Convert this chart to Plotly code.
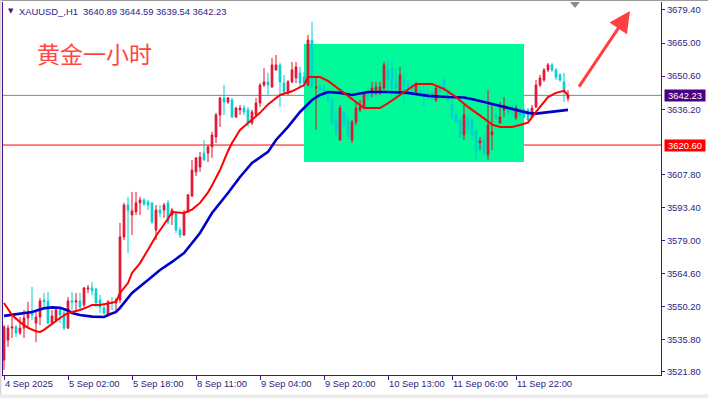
import plotly.graph_objects as go

# ---------------- data ----------------
bars = list(range(142))
opens = [3527.0, 3535.7, 3540.9, 3541.4, 3538.8, 3540.9, 3545.3, 3547.9, 3543.1, 3545.7,
         3553.1, 3552.7, 3543.1, 3544.4, 3548.8, 3547.5, 3540.9, 3552.7, 3552.3, 3552.7,
         3551.0, 3557.9, 3558.4, 3557.9, 3553.1, 3549.7, 3546.6, 3552.3, 3551.8, 3553.1,
         3580.6, 3594.5, 3590.1, 3591.5, 3595.4, 3596.7, 3595.8, 3595.4, 3583.6, 3592.3,
         3592.3, 3595.4, 3590.1, 3591.0, 3583.6, 3581.4, 3591.5, 3598.4, 3608.9, 3611.0,
         3617.1, 3617.1, 3619.8, 3624.1, 3633.7, 3641.1, 3639.3, 3640.2, 3632.8, 3635.9,
         3636.7, 3635.9, 3630.2, 3633.7, 3638.9, 3646.7, 3648.1, 3645.9, 3653.3, 3655.5,
         3647.6, 3643.3, 3648.1, 3649.8, 3652.0, 3650.2, 3646.7, 3666.3, 3645.4, 3645.9,
         3645.4, 3642.4, 3640.2, 3631.5, 3622.8, 3635.0, 3631.5, 3622.8, 3630.6, 3635.9,
         3637.2, 3643.3, 3643.7, 3644.6, 3643.7, 3645.4, 3653.3, 3654.1, 3647.6, 3643.7,
         3648.9, 3647.6, 3645.9, 3643.7, 3644.6, 3643.3, 3643.3, 3643.3, 3640.2, 3645.4,
         3648.9, 3643.7, 3638.0, 3633.7, 3631.5, 3625.0, 3632.8, 3631.5, 3627.2, 3621.5,
         3622.8, 3616.3, 3625.0, 3633.7, 3630.2, 3635.9, 3636.7, 3637.2, 3632.4, 3635.0,
         3635.9, 3635.9, 3632.8, 3637.2, 3646.7, 3648.9, 3653.3, 3655.5, 3653.3, 3651.1,
         3648.1, 3640.89]
highs = [3542.2, 3542.2, 3545.7, 3542.2, 3545.7, 3548.8, 3552.3, 3558.8, 3547.9, 3554.0,
         3556.2, 3556.6, 3548.8, 3550.1, 3550.1, 3548.8, 3554.4, 3556.6, 3556.2, 3556.2,
         3558.8, 3559.7, 3561.0, 3558.4, 3555.3, 3551.8, 3553.1, 3554.4, 3554.0, 3586.7,
         3595.4, 3598.0, 3600.2, 3600.2, 3598.0, 3597.5, 3596.7, 3595.8, 3594.5, 3594.5,
         3595.4, 3596.7, 3593.2, 3591.2, 3584.9, 3592.3, 3599.2, 3614.1, 3615.3, 3617.6,
         3622.8, 3620.6, 3626.3, 3634.6, 3641.6, 3646.7, 3641.5, 3641.1, 3637.2, 3638.0,
         3638.0, 3637.2, 3635.9, 3641.1, 3647.6, 3654.1, 3652.0, 3658.5, 3659.8, 3656.3,
         3651.1, 3648.9, 3656.8, 3656.8, 3654.6, 3652.4, 3668.5, 3674.2, 3650.2, 3646.7,
         3646.7, 3644.6, 3641.1, 3635.0, 3638.0, 3635.9, 3633.7, 3631.5, 3638.9, 3640.2,
         3643.7, 3645.9, 3648.1, 3648.1, 3648.1, 3656.8, 3657.6, 3657.6, 3654.1, 3654.6,
         3652.0, 3648.9, 3647.6, 3648.1, 3646.7, 3646.7, 3644.6, 3644.6, 3646.7, 3647.6,
         3649.8, 3644.6, 3642.4, 3634.6, 3632.4, 3638.9, 3633.7, 3632.4, 3627.5, 3624.1,
         3625.8, 3644.6, 3638.0, 3634.6, 3639.3, 3641.5, 3638.0, 3638.0, 3638.0, 3636.7,
         3636.7, 3636.7, 3638.0, 3648.9, 3651.1, 3654.1, 3656.3, 3656.3, 3654.1, 3652.0,
         3652.0, 3644.59]
lows = [3522.7, 3532.7, 3536.6, 3537.0, 3537.9, 3536.6, 3540.9, 3544.4, 3534.8, 3542.2,
        3548.8, 3542.5, 3542.5, 3543.6, 3543.1, 3540.1, 3540.5, 3548.8, 3548.8, 3548.8,
        3550.1, 3556.2, 3555.3, 3550.1, 3547.5, 3546.6, 3545.7, 3548.8, 3547.5, 3551.8,
        3579.3, 3573.6, 3581.4, 3590.1, 3590.1, 3594.1, 3592.3, 3586.2, 3579.3, 3589.3,
        3588.8, 3586.2, 3585.8, 3582.3, 3580.1, 3581.0, 3591.0, 3598.0, 3607.1, 3608.9,
        3613.8, 3613.2, 3615.0, 3621.5, 3628.5, 3633.7, 3638.5, 3632.4, 3632.4, 3633.7,
        3633.7, 3628.5, 3629.3, 3632.8, 3637.2, 3645.9, 3642.4, 3645.5, 3653.0, 3637.2,
        3643.3, 3642.4, 3647.6, 3647.6, 3645.9, 3645.9, 3646.3, 3645.4, 3627.2, 3643.7,
        3641.5, 3639.3, 3629.3, 3624.1, 3622.4, 3628.0, 3622.8, 3621.5, 3629.3, 3635.0,
        3636.7, 3640.2, 3641.5, 3642.4, 3642.4, 3644.6, 3643.7, 3638.9, 3640.2, 3643.3,
        3638.9, 3642.4, 3643.3, 3642.4, 3641.5, 3636.7, 3640.2, 3639.3, 3639.3, 3642.4,
        3643.7, 3638.9, 3631.5, 3630.2, 3623.7, 3622.8, 3625.8, 3622.8, 3614.1, 3618.4,
        3616.3, 3614.1, 3618.4, 3631.5, 3629.8, 3632.8, 3633.7, 3632.8, 3631.5, 3632.8,
        3632.4, 3631.0, 3632.4, 3636.7, 3645.9, 3648.1, 3652.4, 3652.4, 3648.9, 3648.1,
        3639.3, 3639.54]
closes = [3541.4, 3540.9, 3541.4, 3538.8, 3540.9, 3545.3, 3547.5, 3546.6, 3545.7, 3552.7,
          3552.3, 3543.1, 3546.2, 3548.8, 3546.6, 3540.9, 3552.7, 3552.3, 3552.7, 3550.1,
          3558.4, 3558.4, 3557.1, 3551.8, 3550.1, 3547.5, 3552.3, 3551.8, 3553.1, 3580.6,
          3594.5, 3592.3, 3591.9, 3595.4, 3596.7, 3594.9, 3594.5, 3587.1, 3592.3, 3591.0,
          3594.5, 3587.1, 3592.3, 3583.6, 3581.4, 3591.0, 3598.9, 3609.7, 3615.0, 3615.4,
          3614.1, 3619.8, 3625.0, 3633.7, 3641.1, 3639.3, 3641.1, 3632.8, 3636.7, 3636.7,
          3635.0, 3630.2, 3635.0, 3638.9, 3646.7, 3648.1, 3646.7, 3655.5, 3655.5, 3648.1,
          3643.7, 3648.1, 3653.3, 3654.6, 3647.6, 3647.6, 3666.3, 3645.9, 3645.9, 3644.6,
          3643.7, 3640.2, 3630.2, 3625.8, 3636.7, 3629.3, 3624.1, 3630.6, 3636.7, 3637.2,
          3643.3, 3641.5, 3645.4, 3645.9, 3645.9, 3655.5, 3648.9, 3645.4, 3645.4, 3651.1,
          3643.3, 3645.9, 3644.6, 3646.7, 3643.7, 3642.8, 3641.5, 3641.1, 3645.4, 3643.7,
          3644.6, 3640.2, 3632.4, 3630.6, 3624.1, 3633.7, 3627.2, 3625.0, 3617.6, 3622.4,
          3617.1, 3629.3, 3626.3, 3632.4, 3632.8, 3638.0, 3635.0, 3635.9, 3636.7, 3633.7,
          3632.8, 3631.5, 3636.7, 3646.7, 3649.8, 3653.3, 3655.5, 3653.3, 3650.2, 3648.9,
          3643.7, 3642.23]

# fast moving average (red)
ma_fast_bar = [0, 2, 4, 6, 8, 9, 10, 11, 12, 14, 16, 17, 19, 21, 22, 24, 26, 28, 29, 31,
               32, 34, 36, 38, 41, 42, 45, 47, 49, 51, 52, 54, 56, 57, 59, 61, 64, 66, 69, 72,
               75, 76, 79, 81, 84, 86, 89, 90, 94, 96, 99, 101, 103, 107, 110, 113, 116, 120,
               122, 124, 127, 129, 131, 133, 135, 136, 138, 140, 141]
ma_fast = [3551.8, 3546.6, 3543.5, 3541.0, 3539.5, 3539.2, 3540.1, 3541.4, 3543.0, 3545.3,
           3547.5, 3547.9, 3548.8, 3550.1, 3551.0, 3551.0, 3551.8, 3552.3, 3556.2, 3560.5,
           3564.9, 3569.2, 3575.0, 3581.0, 3588.5, 3591.4, 3591.0, 3592.5, 3595.4, 3600.0,
           3603.0, 3609.7, 3618.0, 3621.5, 3627.2, 3630.2, 3634.6, 3638.3, 3642.4, 3644.0,
           3646.7, 3650.2, 3650.2, 3648.5, 3644.6, 3641.7, 3638.0, 3636.7, 3636.7, 3638.8,
           3642.4, 3645.0, 3647.2, 3647.2, 3645.0, 3641.5, 3637.2, 3632.2, 3629.5, 3628.5,
           3628.5, 3629.3, 3630.4, 3635.0, 3639.5, 3641.5, 3643.3, 3644.2, 3642.4]

# slow moving average (blue)
ma_slow_bar = [0, 4, 7, 10, 12, 14, 16, 17, 19, 22, 25, 26, 28, 29, 32, 36, 39, 42, 45, 49,
               52, 56, 59, 62, 66, 68, 71, 74, 77, 79, 81, 84, 87, 91, 96, 101, 106, 111, 115,
               118, 121, 126, 131, 133, 136, 139, 141]
ma_slow = [3546.2, 3547.0, 3547.9, 3549.5, 3549.9, 3549.7, 3548.6, 3547.5, 3546.6, 3545.9,
           3545.7, 3546.6, 3547.9, 3549.7, 3556.2, 3561.8, 3566.2, 3569.7, 3573.6, 3582.3,
           3591.0, 3599.7, 3606.7, 3612.8, 3617.6, 3622.8, 3628.5, 3635.0, 3640.2, 3642.4,
           3643.7, 3643.3, 3642.4, 3643.7, 3643.7, 3643.3, 3642.0, 3641.5, 3641.3, 3640.2,
           3638.9, 3636.7, 3634.6, 3634.3, 3635.0, 3635.7, 3635.9]

tick_bars = [0, 16, 32, 48, 64, 80, 96, 112, 128]
tick_labels = ["4 Sep 2025", "5 Sep 02:00", "5 Sep 18:00", "8 Sep 11:00", "9 Sep 04:00",
               "9 Sep 20:00", "10 Sep 13:00", "11 Sep 06:00", "11 Sep 22:00"]
price_ticks = [3521.80, 3535.80, 3550.20, 3564.60, 3579.00, 3593.40, 3607.80,
               3636.20, 3650.60, 3665.00, 3679.40]

bid_price = 3642.23
level_price = 3620.60
box_bars = [75, 130]
box_prices = [3613.2, 3664.6]
arrow_tail = (143.5, 3645.4)
arrow_head = (156.5, 3679.0)
header = "XAUUSD_,H1  3640.89 3644.59 3639.54 3642.23"
title_cn = "黄金一小时"

# ---------------- style ----------------
W, H = 708, 398
L, R, T, B = 3, 47, 2, 23
PW, PH = W - L - R, H - T - B
AX = "#4b0f8c"
TXT = "#2b1d86"
FONT = "Liberation Sans"


def px(x):
    return (x - L) / PW


def py(y):
    return (H - B - y) / PH


fig = go.Figure()
fig.add_trace(go.Candlestick(
    x=bars, open=opens, high=highs, low=lows, close=closes,
    increasing=dict(line=dict(color="#e3102d", width=1), fillcolor="#e3102d"),
    decreasing=dict(line=dict(color="#00ced1", width=1), fillcolor="#00ced1"),
    whiskerwidth=0, showlegend=False, hoverinfo="skip"))
fig.add_trace(go.Scatter(x=ma_slow_bar, y=ma_slow, mode="lines",
                         line=dict(color="#0000cd", width=2.6), showlegend=False,
                         hoverinfo="skip"))
fig.add_trace(go.Scatter(x=ma_fast_bar, y=ma_fast, mode="lines",
                         line=dict(color="#ff0000", width=2), showlegend=False,
                         hoverinfo="skip"))

shapes = [
    dict(type="rect", xref="x", yref="y", x0=box_bars[0], x1=box_bars[1],
         y0=box_prices[0], y1=box_prices[1], fillcolor="#00fa9a",
         line=dict(width=0), layer="below"),
    dict(type="line", xref="paper", yref="y", x0=0, x1=1, y0=bid_price, y1=bid_price,
         line=dict(color="#778899", width=1), layer="below"),
    dict(type="line", xref="paper", yref="y", x0=0, x1=1, y0=level_price, y1=level_price,
         line=dict(color="#ff0000", width=1), layer="below"),
    # window decorations
    dict(type="line", xref="paper", yref="paper", x0=px(0), x1=px(W), y0=py(0.5), y1=py(0.5),
         line=dict(color="#9a9a9a", width=1)),
    dict(type="rect", xref="paper", yref="paper", x0=px(0), x1=px(1.5), y0=py(0), y1=py(H),
         fillcolor="#d8d8d8", line=dict(width=0)),
    dict(type="rect", xref="paper", yref="paper", x0=px(0), x1=px(W), y0=py(394.5), y1=py(H),
         fillcolor="#ececec", line=dict(width=0)),
    dict(type="path", xref="paper", yref="paper",
         path=f"M {px(570)} {py(2)} L {px(580)} {py(2)} L {px(575)} {py(8)} Z",
         fillcolor="#8c8c8c", line=dict(width=0)),
]

annotations = [
    dict(xref="paper", yref="paper", x=px(6), y=py(11), text="▼", showarrow=False,
         xanchor="left", yanchor="middle", font=dict(family="DejaVu Sans", size=7, color=AX)),
    dict(xref="paper", yref="paper", x=px(17), y=py(11), text=header, showarrow=False,
         xanchor="left", yanchor="middle", font=dict(family=FONT, size=9.4, color=TXT)),
    dict(xref="paper", yref="paper", x=px(35), y=py(53), text=title_cn, showarrow=False,
         xanchor="left", yanchor="middle",
         font=dict(family="Noto Sans CJK SC", size=23, color="#ff4545")),
    dict(xref="paper", yref="y", x=1, y=bid_price, xshift=3, text=f"{bid_price:.2f}",
         showarrow=False, xanchor="left", yanchor="middle", bgcolor="#4b0082",
         width=40, height=11, borderpad=0,
         font=dict(family=FONT, size=9.4, color="#ffffff")),
    dict(xref="paper", yref="y", x=1, y=level_price, xshift=3, text=f"{level_price:.2f}",
         showarrow=False, xanchor="left", yanchor="middle", bgcolor="#ff0000",
         width=40, height=11, borderpad=0,
         font=dict(family=FONT, size=9.4, color="#ffffff")),
    dict(xref="x", yref="y", x=arrow_head[0], y=arrow_head[1],
         axref="x", ayref="y", ax=arrow_tail[0], ay=arrow_tail[1], text="",
         showarrow=True, arrowhead=2, arrowsize=1.4, arrowwidth=3, arrowcolor="#ff4040"),
]

fig.update_layout(
    width=W, height=H, margin=dict(l=L, r=R, t=T, b=B, autoexpand=False),
    paper_bgcolor="#ffffff", plot_bgcolor="#ffffff",
    boxgap=0.4, showlegend=False, shapes=shapes, annotations=annotations,
    xaxis=dict(range=[-0.25, 164.25], showgrid=False, zeroline=False, automargin=False,
               rangeslider=dict(visible=False), showline=True, linecolor=AX, linewidth=1,
               ticks="outside", ticklen=4, tickcolor=AX, tickvals=tick_bars,
               ticktext=tick_labels, ticklabelposition="outside right", tickangle=0,
               tickfont=dict(family=FONT, size=9.4, color=TXT), fixedrange=True),
    yaxis=dict(range=[3520.47, 3682.88], side="right", showgrid=False, zeroline=False,
               automargin=False,
               showline=True, mirror=True, linecolor=AX, linewidth=1,
               ticks="outside", ticklen=3, tickcolor=AX, tickvals=price_ticks,
               ticktext=[f"{v:.2f}" for v in price_ticks],
               tickfont=dict(family=FONT, size=9.4, color=TXT), fixedrange=True),
)

fig.write_html("out.html")
